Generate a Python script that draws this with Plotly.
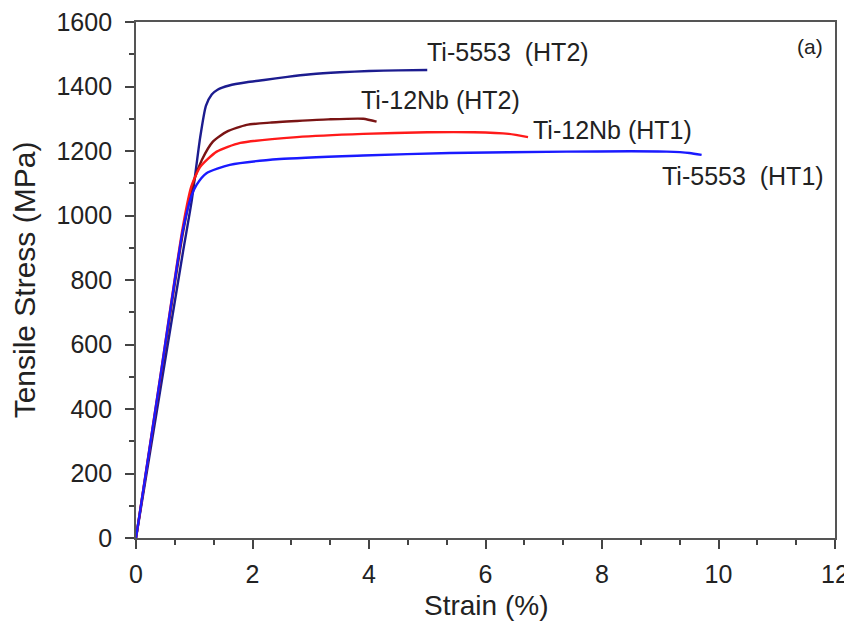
import plotly.graph_objects as go

# Ti-5553 (HT2)
ti5553_ht2_x = [0, 0.4, 0.8, 0.96, 1.1, 1.2, 1.3, 1.4, 1.6, 1.9, 2.2, 2.6, 3.0, 3.5, 4.0, 4.5, 5.0]
ti5553_ht2_y = [0, 440, 880, 1050, 1240, 1340, 1375, 1390, 1403, 1413, 1420, 1430, 1438, 1444, 1448, 1450, 1451]
# Ti-12Nb (HT2)
ti12nb_ht2_x = [0, 0.4, 0.8, 1.0, 1.13, 1.32, 1.56, 1.9, 2.3, 2.76, 3.3, 3.9, 4.13]
ti12nb_ht2_y = [0, 470, 940, 1110, 1172, 1229, 1260, 1281, 1288, 1293, 1298, 1300, 1291]
# Ti-12Nb (HT1)
ti12nb_ht1_x = [0, 0.4, 0.8, 0.95, 1.1, 1.385, 1.79, 2.76, 3.9, 5.0, 5.8, 6.4, 6.73]
ti12nb_ht1_y = [0, 480, 960, 1090, 1150, 1198, 1225, 1243, 1253, 1258, 1258, 1253, 1243]
# Ti-5553 (HT1)
ti5553_ht1_x = [0, 0.41, 0.8, 0.95, 1.04, 1.21, 1.61, 2.47, 3.9, 5.39, 7.39, 8.5, 9.11, 9.5, 9.71]
ti5553_ht1_y = [0, 490, 950, 1060, 1095, 1131, 1157, 1175, 1186, 1194, 1198, 1199, 1198, 1194, 1188]

labels = ["Ti-5553\u00a0 (HT2)", "Ti-12Nb (HT2)", "Ti-12Nb (HT1)", "Ti-5553\u00a0 (HT1)"]
label_x = [4.99, 3.87, 6.82, 9.03]
label_y = [1507, 1358, 1265, 1122]

series = [
    (ti5553_ht2_x, ti5553_ht2_y, "#1c1c8f"),
    (ti12nb_ht2_x, ti12nb_ht2_y, "#7a1414"),
    (ti12nb_ht1_x, ti12nb_ht1_y, "#ff1a1a"),
    (ti5553_ht1_x, ti5553_ht1_y, "#1a1aff"),
]

fig = go.Figure()
for (xs, ys, c), name in zip(series, labels):
    fig.add_trace(go.Scatter(x=xs, y=ys, mode="lines", name=name,
                             line=dict(color=c, width=2.4, shape="spline", smoothing=0.6)))

for t, lx, ly in zip(labels, label_x, label_y):
    fig.add_annotation(x=lx, y=ly, text=t, showarrow=False, xanchor="left", yanchor="middle",
                       borderpad=0, borderwidth=0,
                       font=dict(size=25, color="#222222"))
fig.add_annotation(x=11.8, y=1525, text="(a)", showarrow=False, xanchor="right", yanchor="middle",
                   borderpad=0, borderwidth=0,
                   font=dict(size=21, color="#222222"))
# x-axis title placed explicitly below the tick labels
fig.add_annotation(x=0.5, y=0, xref="paper", yref="paper", text="Strain (%)", showarrow=False,
                   xanchor="center", yanchor="middle", yshift=-67,
                   borderpad=0, borderwidth=0,
                   font=dict(size=28, color="#222222"))

axis_common = dict(showline=True, linecolor="#555555", linewidth=1.8, mirror=True,
                   ticks="outside", tickcolor="#444444", ticklen=9, tickwidth=1.5,
                   showgrid=False, zeroline=False, automargin=False,
                   ticklabeloverflow="allow",
                   tickfont=dict(size=25, color="#222222"))

fig.update_xaxes(range=[0, 12], dtick=2, tick0=0, ticklabelstandoff=4,
                 minor=dict(dtick=2/3, ticks="outside", ticklen=5, tickcolor="#444444", tickwidth=1.5),
                 **axis_common)
fig.update_yaxes(range=[0, 1600], dtick=200, tick0=0, ticklabelstandoff=8,
                 minor=dict(dtick=100, ticks="outside", ticklen=5, tickcolor="#444444", tickwidth=1.5),
                 title=dict(text="Tensile Stress (MPa)", font=dict(size=30, color="#222222"), standoff=17),
                 **axis_common)

# page body has an 8px margin: shift the figure so the plot area lands where the reference has it
fig.update_layout(width=844, height=616, showlegend=False,
                  margin=dict(l=128, r=17, t=14, b=86),
                  paper_bgcolor="white", plot_bgcolor="white",
                  font=dict(family="Liberation Sans, Arial, sans-serif"))

fig.write_html("out.html")
